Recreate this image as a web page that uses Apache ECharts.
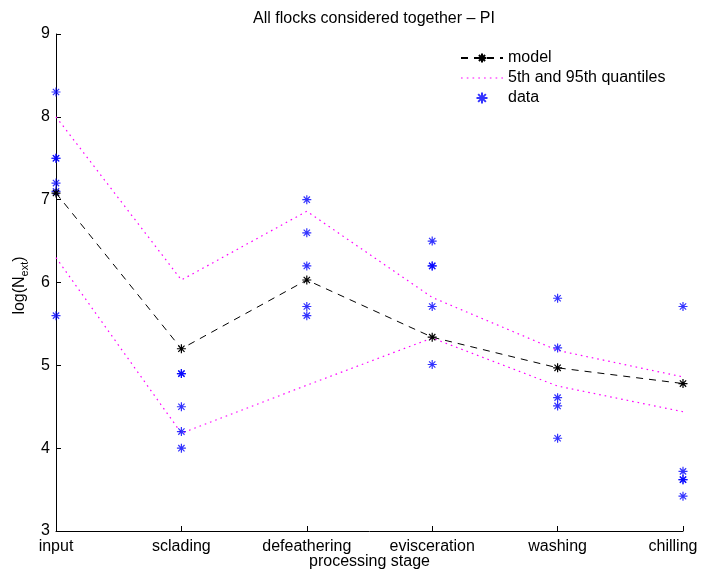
<!DOCTYPE html>
<html>
<head>
<meta charset="utf-8">
<script src="https://cdn.jsdelivr.net/npm/echarts@6/dist/echarts.min.js"></script>
<style>html,body{margin:0;padding:0;background:#fff}#c{width:703px;height:574px}</style>
</head>
<body>
<div id="c"></div>
<script>
var stages = ['input', 'sclading', 'defeathering', 'evisceration', 'washing', 'chilling'];
var modelValues = [7.08, 5.2, 6.03, 5.34, 4.97, 4.78];
var upperQuantile = [8.0, 6.03, 6.86, 5.82, 5.18, 4.86];
var lowerQuantile = [6.3, 4.18, 4.76, 5.33, 4.75, 4.44];
var dataInput = [8.3, 7.5, 7.5, 7.2, 7.1, 5.6];
var dataScalding = [4.9, 4.9, 4.5, 4.2, 4.0];
var dataDefeathering = [7.0, 6.6, 6.2, 5.71, 5.6];
var dataEvisceration = [6.5, 6.2, 6.2, 5.71, 5.01];
var dataWashing = [5.81, 5.21, 4.61, 4.51, 4.12];
var dataChilling = [5.71, 3.72, 3.62, 3.62, 3.42];
var yTicks = [3, 4, 5, 6, 7, 8, 9];

var allData = [dataInput, dataScalding, dataDefeathering, dataEvisceration, dataWashing, dataChilling];
var scatterPts = [];
allData.forEach(function (arr, i) {
  arr.forEach(function (v) { scatterPts.push([i, v]); });
});

var star = 'path://M0,5L10,5M5,0L5,10M1.5,1.5L8.5,8.5M1.5,8.5L8.5,1.5';
var dottedIcon = 'path://M0,0h1.6v1.2h-1.6zM5.6,0h1.6v1.2h-1.6zM11.2,0h1.6v1.2h-1.6zM16.8,0h1.6v1.2h-1.6zM22.4,0h1.6v1.2h-1.6zM28,0h1.6v1.2h-1.6zM33.6,0h1.6v1.2h-1.6zM39.2,0h1.6v1.2h-1.6z';
var FONT = '"Liberation Sans", Arial, sans-serif';

var chart = echarts.init(document.getElementById('c'));
chart.setOption({
  animation: false,
  backgroundColor: '#fff',
  textStyle: { fontFamily: FONT },
  title: {
    text: 'All flocks considered together \u2013 PI',
    left: 369, top: 6, textAlign: 'center',
    textStyle: { fontSize: 16, fontWeight: 'normal', color: '#000', fontFamily: FONT }
  },
  legend: {
    orient: 'vertical', left: 455, top: 45, itemGap: 4,
    itemWidth: 42, itemHeight: 11,
    textStyle: { fontSize: 16, color: '#000', fontFamily: FONT },
    data: [
      { name: 'model' },
      { name: '5th and 95th quantiles', icon: dottedIcon, itemStyle: { color: '#ff00ff' } },
      { name: 'data' }
    ]
  },
  grid: { left: 56, right: 20, top: 34, bottom: 43, containLabel: false, outerBoundsMode: 'none' },
  xAxis: {
    type: 'category', data: stages, boundaryGap: false,
    axisLine: { lineStyle: { color: '#000', width: 1 } },
    axisTick: { inside: true, length: 5, lineStyle: { color: '#000' } },
    axisLabel: {
      color: '#000', fontSize: 16, margin: 8, fontFamily: FONT,
      formatter: function (v, i) { return i === stages.length - 1 ? '{last|' + v + '}' : v; },
      rich: { last: { fontSize: 16, color: '#000', fontFamily: FONT, padding: [0, 20, 0, 0] } }
    },
    name: 'processing stage', nameLocation: 'middle', nameGap: 23, nameMoveOverlap: false,
    nameTextStyle: { color: '#000', fontSize: 16, fontFamily: FONT },
    splitLine: { show: false }
  },
  yAxis: {
    type: 'value', min: yTicks[0], max: yTicks[yTicks.length - 1], interval: 1,
    axisLine: { show: true, lineStyle: { color: '#000', width: 1 } },
    axisTick: { show: true, inside: true, length: 5, lineStyle: { color: '#000' } },
    axisLabel: { color: '#000', fontSize: 16, margin: 6, fontFamily: FONT },
    splitLine: { show: false },
    name: '{a|log(N}{s|ext}{a|)}', nameLocation: 'middle', nameGap: 26, nameMoveOverlap: false,
    nameTextStyle: {
      color: '#000', fontFamily: FONT, padding: [0, 6, 0, 0],
      rich: {
        a: { fontSize: 16, color: '#000', fontFamily: FONT },
        s: { fontSize: 11, color: '#000', fontFamily: FONT, padding: [9, 0, 0, 0] }
      }
    }
  },
  series: [
    {
      name: '5th and 95th quantiles', type: 'line', data: upperQuantile,
      symbol: 'none', lineStyle: { color: '#ff00ff', width: 1.2, type: [1.6, 4] },
      itemStyle: { color: '#ff00ff' }, z: 2
    },
    {
      name: '5th and 95th quantiles', type: 'line', data: lowerQuantile,
      symbol: 'none', lineStyle: { color: '#ff00ff', width: 1.2, type: [1.6, 4] },
      itemStyle: { color: '#ff00ff' }, z: 2
    },
    {
      name: 'data', type: 'scatter', data: scatterPts,
      symbol: star, symbolSize: 9,
      itemStyle: { color: 'none', borderColor: '#0000ff', borderWidth: 1.2 }, z: 3
    },
    {
      name: 'model', type: 'line', data: modelValues,
      symbol: star, symbolSize: 9, showSymbol: true,
      lineStyle: { color: '#000', width: 1, type: [7, 6] },
      itemStyle: { color: 'none', borderColor: '#000', borderWidth: 1.2 }, z: 4
    }
  ]
});
</script>
</body>
</html>
